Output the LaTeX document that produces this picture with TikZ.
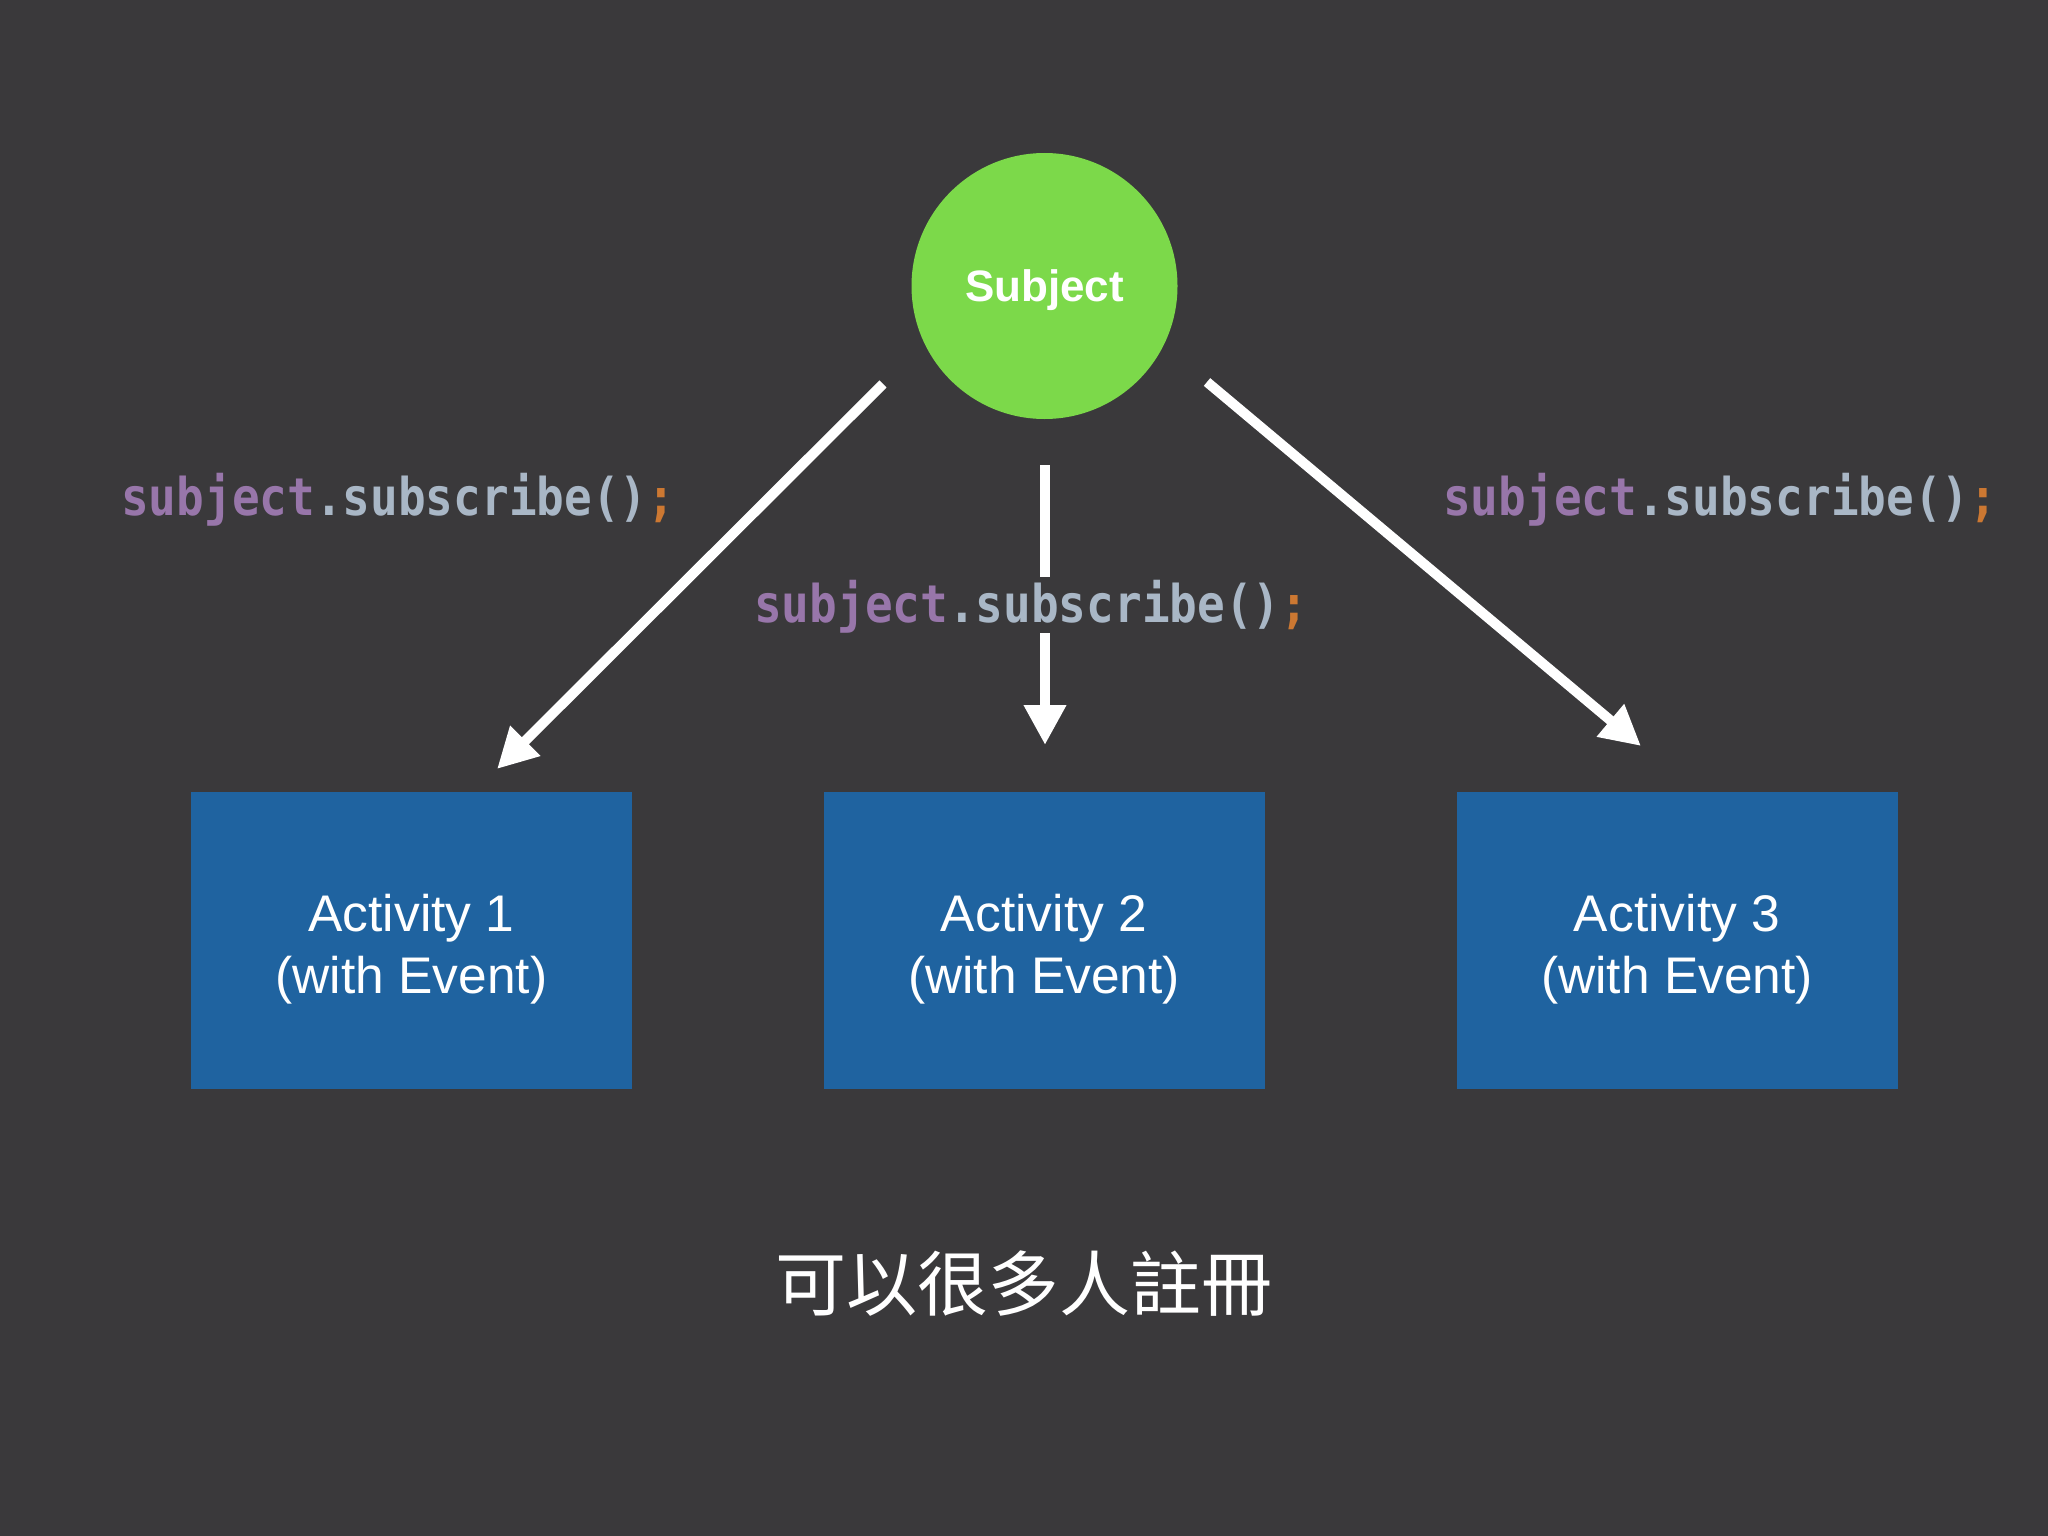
\documentclass[tikz,border=0pt]{standalone}
\usepackage{fontspec}
\usetikzlibrary{arrows.meta}
\setmainfont{Liberation Sans}
\newfontfamily\codefont[FakeStretch=0.885]{DejaVu Sans Mono}
\newfontfamily\cjkfont{Noto Sans CJK TC}
\definecolor{bgc}{RGB}{58,57,59}
\definecolor{subjgreen}{RGB}{124,217,74}
\definecolor{actblue}{RGB}{31,99,160}
\definecolor{codepurple}{HTML}{9876AA}
\definecolor{codegrey}{HTML}{A9B7C6}
\definecolor{codeorange}{HTML}{CC7832}
\tikzset{
  subjnode/.style={circle, fill=subjgreen, minimum size=266pt, inner sep=0pt,
    text=white, font=\fontsize{44}{50}\selectfont\bfseries, text depth=0pt},
  actbox/.style={rectangle, fill=actblue, minimum width=441pt, minimum height=297pt,
    inner sep=0pt, text=white, align=center,
    font=\fontsize{51.5}{62}\selectfont},
  codelabel/.style={inner sep=0pt, anchor=base west,
    font=\fontsize{52}{60}\codefont\bfseries},
  bigarrow/.style={draw=white, line width=10pt, -{Triangle[length=40pt,width=40pt]}},
  note/.style={inner sep=0pt, text=white, font=\fontsize{71}{80}\cjkfont}
}
\newcommand{\subcall}{{\color{codepurple}subject}{\color{codegrey}.subscribe()}{\color{codeorange};}}
\newcommand{\toppad}{\rule{0pt}{54pt}}
\begin{document}
\begin{tikzpicture}[x=1pt,y=-1pt]
\fill[bgc] (0,0) rectangle (2048,1536);
\useasboundingbox (0,0) rectangle (2048,1536);

\node[subjnode] (subject) at (1044.5,286) {Subject};

\node[actbox] (act1) at (411.5,940.5) {\toppad Activity 1\\(with Event)};
\node[actbox] (act2) at (1044,940.5) {\toppad Activity 2\\(with Event)};
\node[actbox] (act3) at (1677,940.5) {\toppad Activity 3\\(with Event)};

\coordinate (s1) at (883,384);
\coordinate (t1) at (497,769);
\coordinate (s2) at (1045,465);
\coordinate (t2) at (1045,745);
\coordinate (s3) at (1207,382);
\coordinate (t3) at (1641,746);

\draw[bigarrow] (s1) -- (t1);
\draw[bigarrow] (s2) -- (t2);
\draw[bigarrow] (s3) -- (t3);

\node[codelabel] (lab1) at (121,515) {\subcall};
\node[codelabel, fill=bgc, text height=45pt, text depth=11pt] (lab2) at (754,622) {\subcall};
\node[codelabel] (lab3) at (1443,515) {\subcall};

\node[note] (caption) at (1024,1284) {可以很多人註冊};
\end{tikzpicture}
\end{document}
